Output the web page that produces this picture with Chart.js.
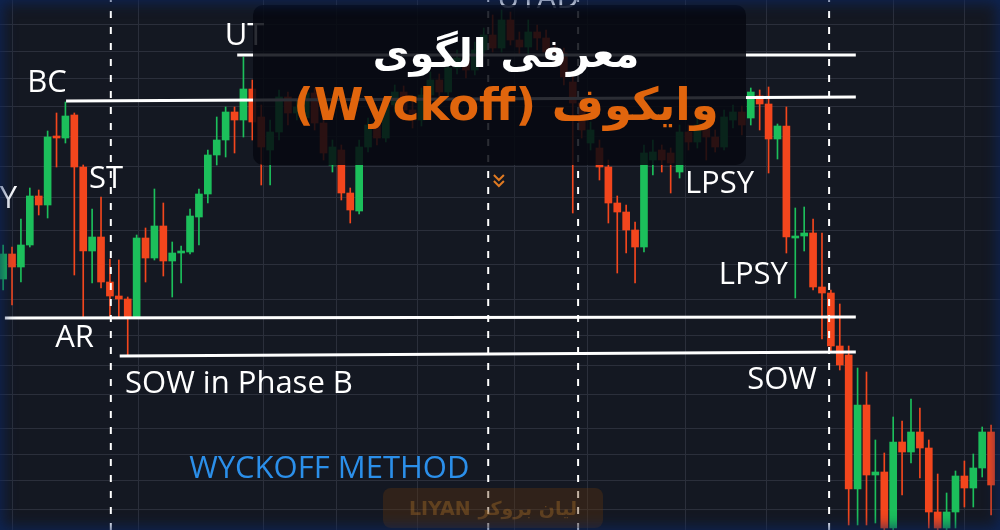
<!DOCTYPE html>
<html>
<head>
<meta charset="utf-8">
<script src="https://cdn.jsdelivr.net/npm/chart.js@4.4.0/dist/chart.umd.min.js"></script>
<style>
  html, body { margin: 0; padding: 0; background: #0d1a33; }
  #wrap { position: relative; width: 1000px; height: 530px; overflow: hidden; background: #141822; }
  #wrap canvas { position: absolute; left: 0; top: 0; }
  #vignette { position: absolute; inset: 0; pointer-events: none; box-shadow: inset 0 0 14px 3px rgba(12, 40, 100, 0.75); }
  #titleBox { position: absolute; left: 253px; top: 5px; width: 493px; height: 160px; border-radius: 10px; background: rgba(6, 8, 17, 0.85); }
  .title { position: absolute; left: 13px; right: 0; text-align: center; direction: rtl; font-family: "DejaVu Sans"; font-weight: bold; white-space: nowrap; }
  #t1 { top: 25px; font-size: 40px; color: #ffffff; }
  #t2 { top: 73px; font-size: 45px; color: #e0650d; }
  #mark { position: absolute; left: 383px; top: 488px; width: 220px; height: 40px; border-radius: 8px; background: rgba(95, 52, 14, 0.38); display: flex; align-items: center; justify-content: center; gap: 8px; font-family: "DejaVu Sans"; font-weight: bold; font-size: 19px; color: rgba(170, 110, 40, 0.4); }
</style>
</head>
<body>
<div id="wrap">
  <canvas id="myChart" width="1000" height="530"></canvas>
  <div id="titleBox">
    <div class="title" id="t1">معرفی الگوی</div>
    <div class="title" id="t2">وایکوف (Wyckoff)</div>
  </div>
  <div id="mark"><span>LIYAN</span><span dir="rtl">لیان بروکر</span></div>
  <div id="vignette"></div>
</div>
<script>
// candle prices (one entry per candle, left to right)
const opens  = [251,276,263,285,334,325,394,392,415,363, 279,293,248,234,231,213,292,272,304,269,
                277,278,313,336,375,390,418,410,441,413, 380,398,433,417,412,437,407,365,380,337,
                319,383,405,392,425,438,420,410,435,450, 438,462,472,460,480,495,482,510,490,483,
                498,492,480,477,448,427,387,382,363,327, 318,300,283,370,380,377,358,398,388,405,
                393,383,410,418,412,434,426,391,404,292, 294,297,243,237,184,175,41,125,55,58,
                2,88,78,98,82,18,2,18,54,42, 62,98];
const highs  = [285,283,311,342,340,399,417,428,417,365, 321,333,271,270,233,295,302,341,327,288,
                284,321,341,380,413,423,423,473,450,425, 410,440,438,430,442,442,412,390,385,342,
                390,412,415,432,445,444,430,442,458,456, 470,480,478,488,502,515,520,518,498,510,
                505,500,485,482,455,432,408,390,370,334, 325,308,385,390,385,382,405,405,412,412,
                400,420,425,424,442,440,443,406,423,322, 323,311,297,240,226,184,162,158,90,77,
                113,109,131,122,90,56,37,59,69,76, 103,105];
const lows   = [240,225,248,283,315,312,363,387,255,213, 247,242,212,213,175,212,248,270,254,233,
                247,276,285,327,365,373,377,393,390,345, 345,390,405,410,408,400,370,358,330,307,
                316,378,385,388,418,410,402,404,430,430, 434,456,452,455,475,478,478,485,475,475,
                480,472,465,445,317,392,380,350,307,257, 277,247,278,355,358,337,352,380,382,370,
                378,380,402,395,405,400,357,371,277,232, 279,240,191,178,160,5,5,5,7,0,
                0,35,67,52,2,0,0,2,23,23, 53,15];
const closes = [276,263,285,334,325,393,392,414,363,279, 293,248,234,231,213,292,272,304,269,277,
                279,314,336,375,390,418,410,441,408,383, 398,433,417,423,437,407,377,383,337,320,
                383,405,392,425,438,420,410,435,450,438, 462,472,460,480,495,482,510,490,483,498,
                492,478,475,453,427,400,400,363,327,318, 300,283,377,378,370,367,398,388,405,393,
                383,413,418,405,438,426,391,404,293,294, 297,243,237,184,165,41,125,55,58,2,
                88,78,98,82,18,2,18,54,42,62, 98,45];

// horizontal levels: [startCandle, endCandle, startPrice, endPrice]
const levelNames  = ['UT', 'BC', 'AR', 'SOW'];
const levelFrom   = [26.3, 7.07, 0.2, 13.1];
const levelTo     = [95.8, 95.8, 95.8, 95.8];
const levelStartY = [475, 429, 212, 174];
const levelEndY   = [475, 433, 213, 178];

// phase separators (candle positions)
const phaseLines = [12.1, 54.5, 64.6, 92.8];

// text marks
const labelTexts = ['UT', 'UTAD', 'BC', 'ST', 'PSY', 'AR', 'SOW in Phase B', 'LPSY', 'LPSY', 'SOW', 'WYCKOFF METHOD'];
const labelIdx   = [24.9, 55.5, 2.7, 9.65, 1.56, 5.85, 13.7, 76.6, 80.4, 83.6, 20.9];
const labelPrice = [485, 522, 438, 342, 322, 183, 137, 337, 246, 141, 52];

// grid positions
const timeGrid  = [1.0, 15.2, 29.2, 37.4, 46.5, 57.5, 65.6, 76.7, 85.8, 100.0, 108.0];
const priceGrid = [505, 478, 451, 423, 394, 364, 333, 300, 266, 231, 195, 165, 135, 102, 76, 50, 21];

const GREEN = '#1cbf5b';
const RED = '#f3461d';
const candleColors = opens.map((o, i) => closes[i] >= o ? GREEN : RED);

function makeDatasets() {
    const sets = [];
    levelNames.forEach((name, i) => {
        sets.push({
            type: 'line',
            label: name,
            data: [{ x: levelFrom[i], y: levelStartY[i] }, { x: levelTo[i], y: levelEndY[i] }],
            borderColor: '#ffffff',
            borderWidth: 3,
            pointRadius: 0,
            order: 0
        });
    });
    phaseLines.forEach(p => {
        sets.push({
            type: 'line',
            label: 'phase',
            data: [{ x: p, y: 0 }, { x: p, y: 530 }],
            borderColor: '#ffffff',
            borderWidth: 2,
            borderDash: [7, 9],
            pointRadius: 0,
            order: 0
        });
    });
    sets.push({
        type: 'bar',
        label: 'body',
        data: opens.map((o, i) => ({ x: i, y: [o, closes[i]] })),
        backgroundColor: candleColors,
        barThickness: 7,
        minBarLength: 2,
        grouped: false,
        order: 1
    });
    sets.push({
        type: 'bar',
        label: 'wick',
        data: opens.map((o, i) => ({ x: i, y: [lows[i], highs[i]] })),
        backgroundColor: candleColors,
        barThickness: 1,
        grouped: false,
        order: 2
    });
    return sets;
}

const labelPlugin = {
    id: 'wyckoffLabels',
    afterDatasetsDraw(chart) {
        const { ctx, scales: { x, y } } = chart;
        ctx.save();
        ctx.textBaseline = 'alphabetic';
        labelTexts.forEach((t, i) => {
            ctx.font = '31px "Open Sans"';
            ctx.fillStyle = t === 'WYCKOFF METHOD' ? '#2b8fea' : '#ffffff';
            ctx.textAlign = t === 'PSY' ? 'right' : 'left';
            ctx.fillText(t, x.getPixelForValue(labelIdx[i]), y.getPixelForValue(labelPrice[i]));
        });
        // little orange chevrons under UTAD
        const cx = x.getPixelForValue(55.7);
        const cy = y.getPixelForValue(355);
        ctx.strokeStyle = '#e07a22';
        ctx.lineWidth = 2;
        [0, 6].forEach(d => {
            ctx.beginPath();
            ctx.moveTo(cx - 5, cy + d);
            ctx.lineTo(cx, cy + d + 5);
            ctx.lineTo(cx + 5, cy + d);
            ctx.stroke();
        });
        ctx.restore();
    }
};

new Chart(document.getElementById('myChart'), {
    type: 'bar',
    data: { datasets: makeDatasets() },
    options: {
        responsive: false,
        animation: false,
        layout: { padding: 0 },
        plugins: { legend: { display: false }, tooltip: { enabled: false } },
        scales: {
            x: {
                type: 'linear',
                min: -0.35,
                max: 112.0,
                offset: false,
                afterBuildTicks: axis => { axis.ticks = timeGrid.map(v => ({ value: v })); },
                ticks: { display: false },
                border: { display: false },
                grid: { color: '#2b2f3b', drawTicks: false, offset: false }
            },
            y: {
                min: 0,
                max: 530,
                afterBuildTicks: axis => { axis.ticks = priceGrid.map(v => ({ value: v })); },
                ticks: { display: false },
                border: { display: false },
                grid: { color: '#2b2f3b', drawTicks: false }
            }
        }
    },
    plugins: [labelPlugin]
});
</script>
</body>
</html>
